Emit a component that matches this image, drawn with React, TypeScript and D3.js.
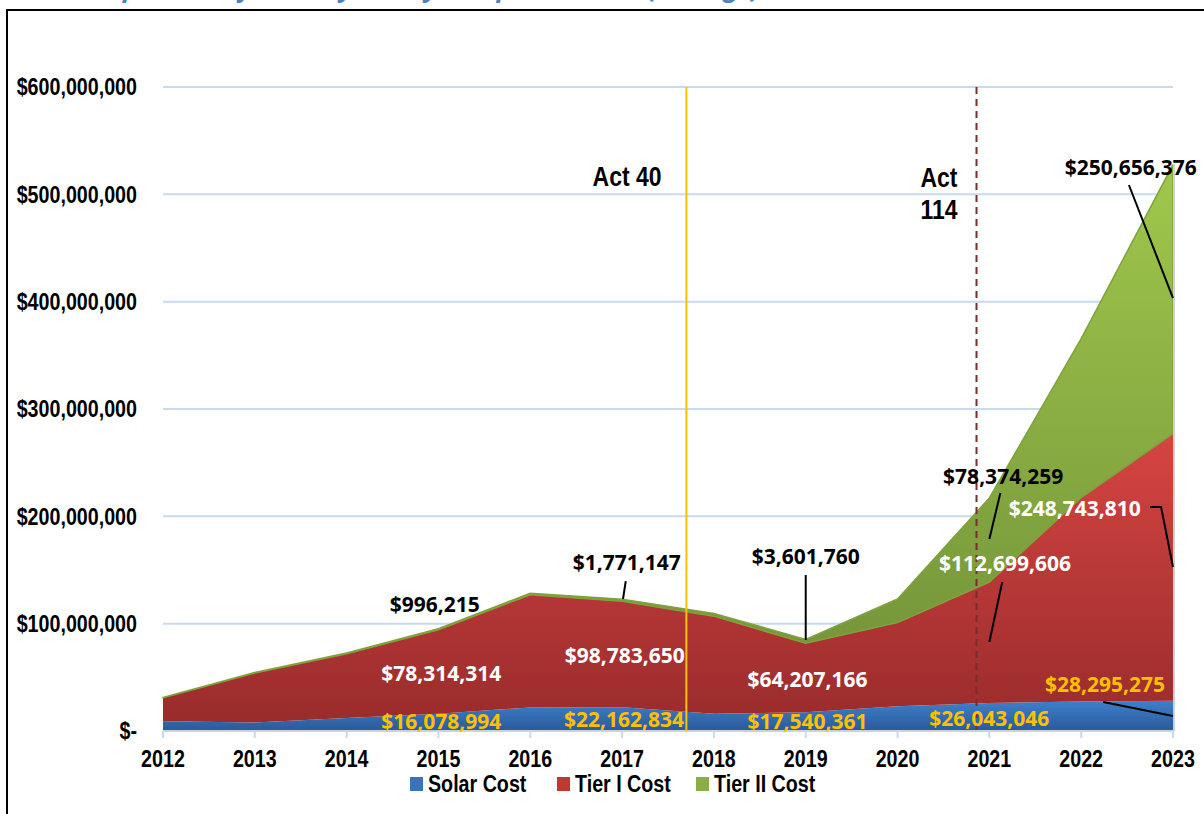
import React from "react";
import * as d3 from "d3";

const years = [2012, 2013, 2014, 2015, 2016, 2017, 2018, 2019, 2020, 2021, 2022, 2023];
const solarCost = [9000000, 8000000, 12000000, 16078994, 22000000, 22162834, 16000000, 17540361, 23000000, 26043046, 27500000, 28295275];
const tier1Cost = [22000000, 46000000, 60000000, 78314314, 105000000, 98783650, 91000000, 64207166, 78000000, 112699606, 190000000, 248743810];
const tier2Cost = [200000, 500000, 700000, 996215, 1300000, 1771147, 2500000, 3601760, 22000000, 78374259, 148000000, 250656376];
const yTicks = [0, 100000000, 200000000, 300000000, 400000000, 500000000, 600000000];
const seriesNames = ["Solar Cost", "Tier I Cost", "Tier II Cost"];
const acts = [
  { name: ["Act 40"], year: 2017.7 },
  { name: ["Act", "114"], year: 2020.86 },
];

// label anchors in data space
type Lab = { s: number; i: number; x: number; v: number; lead?: [number, number][] };
const labels: Lab[] = [
  { s: 2, i: 3, x: 2014.96, v: 118.3e6 },
  { s: 2, i: 5, x: 2017.05, v: 157.5e6, lead: [[2017.04, 139.7e6], [2017.01, 123e6]] },
  { s: 2, i: 7, x: 2019.0, v: 163e6, lead: [[2019.0, 145.3e6], [2019.0, 84.8e6]] },
  { s: 2, i: 9, x: 2021.15, v: 237.6e6, lead: [[2021.12, 221.7e6], [2021.0, 178.9e6]] },
  { s: 2, i: 11, x: 2022.54, v: 525.5e6, lead: [[2022.52, 508.7e6], [2023.0, 403.4e6]] },
  { s: 1, i: 3, x: 2015.03, v: 54e6 },
  { s: 1, i: 5, x: 2017.03, v: 70.8e6 },
  { s: 1, i: 7, x: 2019.02, v: 48.4e6 },
  { s: 1, i: 9, x: 2021.17, v: 156.5e6, lead: [[2021.14, 138.8e6], [2021.0, 82.9e6]] },
  { s: 1, i: 11, x: 2021.93, v: 207.8e6, lead: [[2022.75, 208.7e6], [2022.87, 208.7e6], [2023.0, 152.8e6]] },
  { s: 0, i: 3, x: 2015.03, v: 9.3e6 },
  { s: 0, i: 5, x: 2017.02, v: 11.2e6 },
  { s: 0, i: 7, x: 2019.02, v: 9.3e6 },
  { s: 0, i: 9, x: 2021.0, v: 12.1e6 },
  { s: 0, i: 11, x: 2022.26, v: 43.8e6, lead: [[2022.24, 27e6], [2023.0, 14e6]] },
];

const W = 1204, H = 814;
const left = 163, right = 1173, top = 87, bottom = 731;
const axisFont = "'Liberation Sans', Arial, sans-serif";
const labelFont = "'Open Sans', Lato, sans-serif";

function NT(props: { x: number; y: number; size: number; anchor?: string; children: React.ReactNode; fill?: string }) {
  return (
    <text
      transform={`translate(${props.x},${props.y}) scale(0.82,1)`}
      textAnchor={props.anchor || "start"}
      dominantBaseline="central"
      fontFamily={axisFont}
      fontWeight="bold"
      fontSize={props.size}
      fill={props.fill || "#000"}
    >
      {props.children}
    </text>
  );
}

export default function App() {
  const x = d3.scaleLinear().domain([2012, 2023]).range([left, right]);
  const y = d3.scaleLinear().domain([0, 600000000]).range([bottom, top]);
  const table = years.map((yr, i) => ({ year: yr, s0: solarCost[i], s1: tier1Cost[i], s2: tier2Cost[i] }));
  const stack = d3.stack<any>().keys(["s0", "s1", "s2"]);
  const layers = stack(table);
  const area = d3
    .area<any>()
    .x((d) => x(d.data.year))
    .y0((d) => y(d[0]))
    .y1((d) => y(d[1]));
  const fills = ["url(#gBlue)", "url(#gRed)", "url(#gGreen)"];
  const labelColors = ["#FFC000", "#FFFFFF", "#000000"];
  const seriesVals = [solarCost, tier1Cost, tier2Cost];
  const fmt = d3.format("$,");
  const legendColors = ["#3A73B8", "#C0392F", "#8AAE45"];
  const legendX = [410, 557, 696];
  const line = d3.line<[number, number]>().x((d) => x(d[0])).y((d) => y(d[1]));

  return (
    <svg width={W} height={H} style={{ position: "fixed", left: 0, top: 0, background: "#fff" }}>
      <defs>
        <linearGradient id="gBlue" gradientUnits="userSpaceOnUse" x1="0" y1={y(30e6)} x2="0" y2={bottom}>
          <stop offset="0" stopColor="#3F82CF" />
          <stop offset="1" stopColor="#2A5A99" />
        </linearGradient>
        <linearGradient id="gRed" gradientUnits="userSpaceOnUse" x1="0" y1={y(280e6)} x2="0" y2={bottom}>
          <stop offset="0" stopColor="#D64542" />
          <stop offset="1" stopColor="#982B2B" />
        </linearGradient>
        <linearGradient id="gGreen" gradientUnits="userSpaceOnUse" x1="0" y1={y(530e6)} x2="0" y2={y(80e6)}>
          <stop offset="0" stopColor="#A0C84C" />
          <stop offset="1" stopColor="#76963A" />
        </linearGradient>
      </defs>
      <rect x={0} y={0} width={W} height={H} fill="#fff" />
      <text
        x={70}
        y={-3}
        fill="#4F81BD"
        fontFamily={labelFont}
        fontStyle="italic"
        fontWeight="bold"
        fontSize={26}
        textLength={690}
        lengthAdjust="spacing"
      >
        Composition of Costs by Tier by Compliance Year (Average)
      </text>
      <rect x={7} y={10} width={W + 20} height={H + 20} fill="none" stroke="#000" strokeWidth={2} />

      {yTicks.slice(1).map((t) => (
        <line key={t} x1={left} x2={right} y1={y(t)} y2={y(t)} stroke="#C9DAF0" strokeWidth={2} />
      ))}
      {yTicks.map((t) => (
        <NT key={"l" + t} x={137} y={y(t)} size={24} anchor="end">
          {t === 0 ? "$-" : fmt(t)}
        </NT>
      ))}

      {layers.map((layer, k) => (
        <path key={k} d={area(layer) || ""} fill={fills[k]} stroke={k === 2 ? "#7FA23C" : "none"} strokeWidth={k === 2 ? 1.5 : 0} />
      ))}
      <line x1={right + 1} x2={right + 1} y1={y(layers[2][11][1])} y2={bottom} stroke="#D0D0D0" strokeWidth={2} />

      <line x1={left} x2={right} y1={bottom} y2={bottom} stroke="#C8D3E0" strokeWidth={2} />
      {years.map((yr) => (
        <line key={"t" + yr} x1={x(yr)} x2={x(yr)} y1={bottom} y2={bottom + 7} stroke="#C9DAF0" strokeWidth={2} />
      ))}
      {years.map((yr) => (
        <NT key={"x" + yr} x={x(yr)} y={759} size={24} anchor="middle">
          {yr}
        </NT>
      ))}

      {acts.map((a, k) => (
        <line
          key={"act" + k}
          x1={x(a.year)}
          x2={x(a.year)}
          y1={top}
          y2={bottom}
          stroke={k === 0 ? "#FFC000" : "#7B2C2C"}
          strokeWidth={2}
          strokeDasharray={k === 0 ? undefined : "7,5"}
        />
      ))}
      <NT x={627} y={176} size={28} anchor="middle">
        {acts[0].name[0]}
      </NT>
      {acts[1].name.map((s, j) => (
        <NT key={s} x={939} y={177 + j * 32} size={28} anchor="middle">
          {s}
        </NT>
      ))}

      {labels.map((l, k) => (
        <g key={"lab" + k}>
          {l.lead && <path d={line(l.lead) || ""} fill="none" stroke="#000" strokeWidth={2} />}
          <text
            x={x(l.x)}
            y={y(l.v)}
            textAnchor="middle"
            dominantBaseline="central"
            fontFamily={labelFont}
            fontWeight="bold"
            fontSize={21}
            fill={labelColors[l.s]}
          >
            {fmt(seriesVals[l.s][l.i])}
          </text>
        </g>
      ))}

      {seriesNames.map((n, k) => (
        <g key={n}>
          <rect x={legendX[k]} y={777} width={13} height={14} fill={legendColors[k]} />
          <NT x={legendX[k] + 18} y={784} size={24}>
            {n}
          </NT>
        </g>
      ))}
    </svg>
  );
}
